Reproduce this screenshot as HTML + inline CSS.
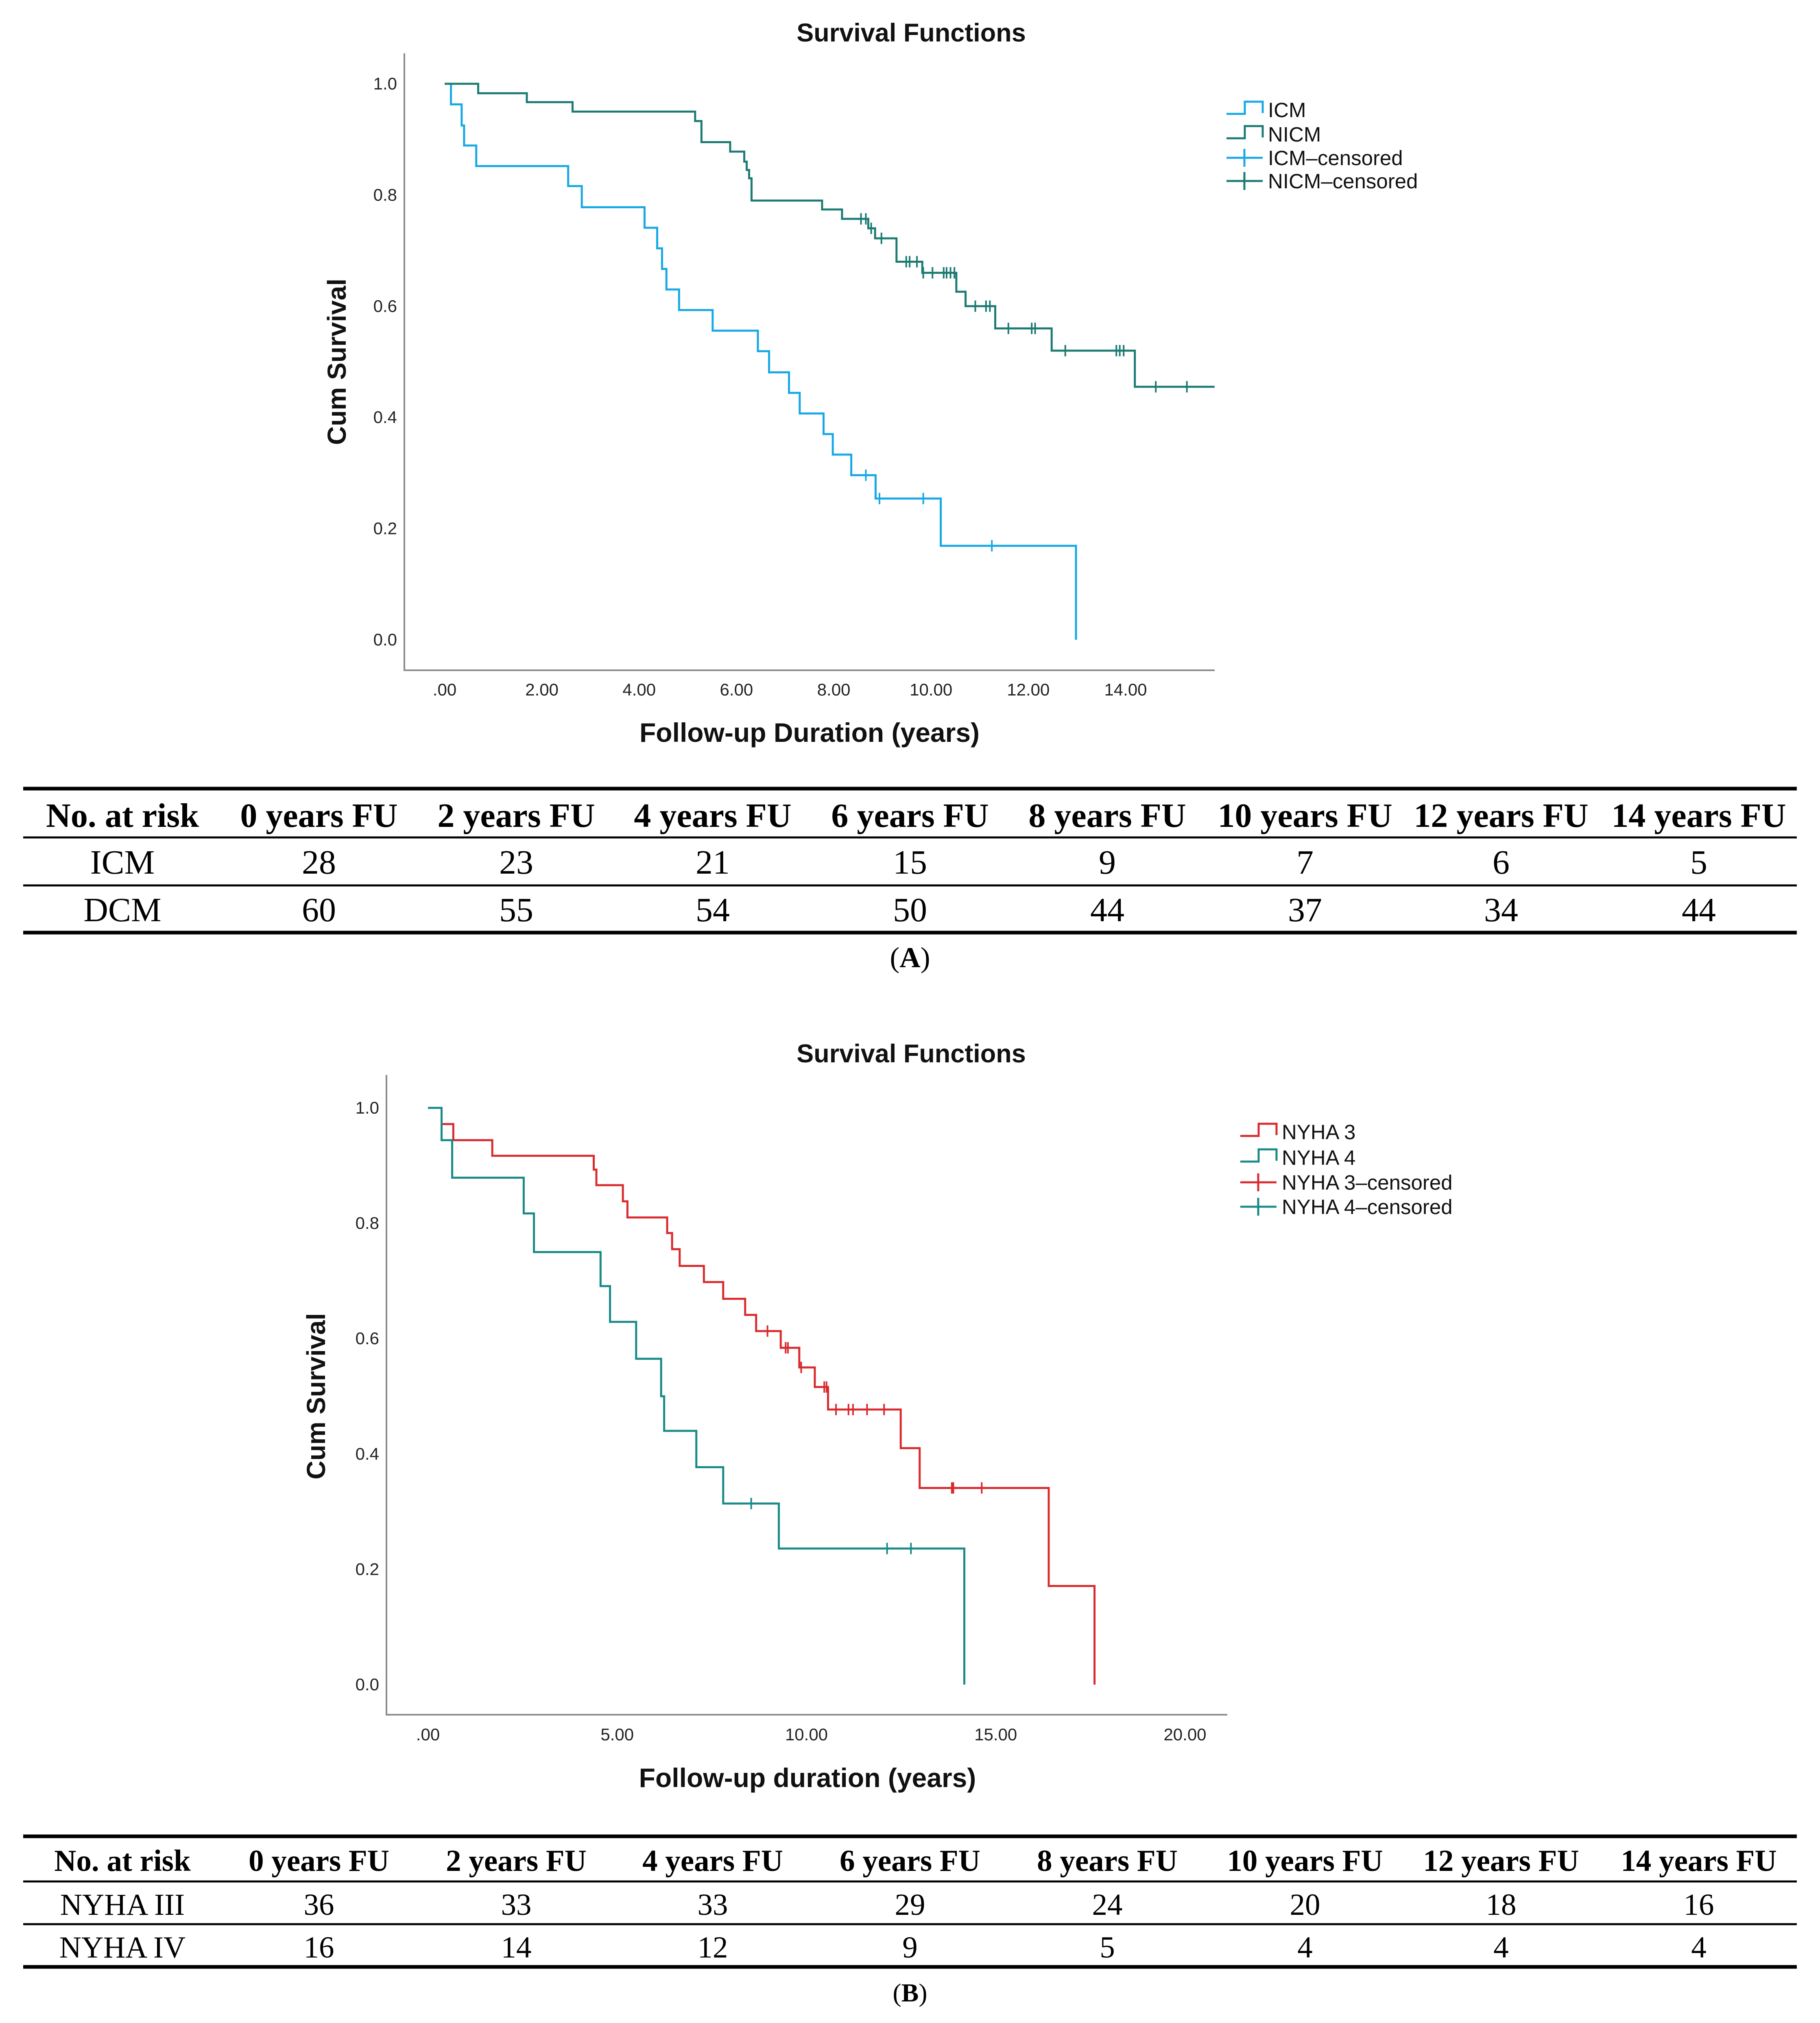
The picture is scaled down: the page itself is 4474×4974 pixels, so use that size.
<!DOCTYPE html>
<html><head><meta charset="utf-8">
<style>
html,body{margin:0;padding:0;background:#fff;}
body{width:4474px;height:4974px;position:relative;overflow:hidden;}
svg{position:absolute;left:0;top:0;}
</style></head>
<body>
<svg id="fig" width="4474" height="4974" viewBox="0 0 4474 4974" xmlns="http://www.w3.org/2000/svg"></svg>
<script>
// ---------- Chart A data ----------
const icmTimes = [0.13,0.35,0.40,0.65,2.54,2.82,4.11,4.37,4.47,4.56,4.82,5.51,6.44,6.67,7.08,7.30,7.79,7.98,8.36,8.86,10.20,12.98];
const icmSurv  = [0.963,0.925,0.889,0.852,0.816,0.778,0.741,0.704,0.667,0.630,0.593,0.556,0.519,0.481,0.444,0.407,0.370,0.333,0.296,0.254,0.169,0.0];
const icmCens  = [8.66,8.94,9.84,11.25];
const icmEnd = 12.98;
const nicmTimes = [0.69,1.69,2.63,5.15,5.28,5.87,6.16,6.21,6.26,6.31,7.76,8.17,8.71,8.85,9.29,9.82,10.52,10.71,11.32,12.48,14.19];
const nicmSurv  = [0.983,0.967,0.950,0.933,0.895,0.878,0.860,0.845,0.830,0.790,0.774,0.757,0.740,0.722,0.680,0.660,0.626,0.600,0.560,0.520,0.455];
const nicmCens  = [8.56,8.66,8.77,8.98,9.49,9.56,9.71,9.84,10.03,10.26,10.32,10.40,10.48,10.91,11.13,11.21,11.59,12.07,12.14,12.76,13.81,13.88,13.96,14.62,15.26];
const nicmEnd = 15.83;
const xTicksA = [0,2,4,6,8,10,12,14];
const xTickLabelsA = [".00","2.00","4.00","6.00","8.00","10.00","12.00","14.00"];
const yTicks = [0,0.2,0.4,0.6,0.8,1.0];
const yTickLabels = ["0.0","0.2","0.4","0.6","0.8","1.0"];
// ---------- Chart B data ----------
const ny3Times = [0.36,0.67,1.70,4.38,4.45,5.15,5.27,6.32,6.45,6.65,7.29,7.80,8.38,8.67,9.32,9.81,10.22,10.57,12.49,12.99,16.40,17.61];
const ny3Surv  = [0.972,0.944,0.917,0.893,0.866,0.838,0.810,0.783,0.755,0.726,0.698,0.669,0.641,0.613,0.584,0.550,0.516,0.477,0.410,0.341,0.171,0.0];
const ny3Cens  = [8.97,9.45,9.51,9.86,10.47,10.53,10.78,11.11,11.23,11.60,12.05,13.84,13.88,14.63];
const ny3End = 17.61;
const ny4Times = [0.36,0.64,2.53,2.80,4.56,4.81,5.50,6.16,6.24,7.09,7.80,9.27,14.17];
const ny4Surv  = [0.944,0.879,0.817,0.750,0.691,0.629,0.565,0.500,0.440,0.377,0.314,0.236,0.0];
const ny4Cens  = [8.54,12.13,12.76];
const ny4End = 14.17;
const xTicksB = [0,5,10,15,20];
const xTickLabelsB = [".00","5.00","10.00","15.00","20.00"];
// ---------- Tables ----------
const headersA = ["No. at risk","0 years FU","2 years FU","4 years FU","6 years FU","8 years FU","10 years FU","12 years FU","14 years FU"];
const rowICM = ["ICM","28","23","21","15","9","7","6","5"];
const rowDCM = ["DCM","60","55","54","50","44","37","34","44"];
const rowNY3 = ["NYHA III","36","33","33","29","24","20","18","16"];
const rowNY4 = ["NYHA IV","16","14","12","9","5","4","4","4"];
const colX = [301,784,1269,1752,2237,2722,3208,3690,4176];

const NS="http://www.w3.org/2000/svg";
const svg=document.getElementById('fig');
function el(tag,attrs,parent){const e=document.createElementNS(NS,tag);for(const k in attrs)e.setAttribute(k,attrs[k]);(parent||svg).appendChild(e);return e;}
function txt(s,attrs,parent){const e=el('text',attrs,parent);e.textContent=s;return e;}

function chart(cfg){
  const g=el('g',{});
  
  
  const xs=v=>cfg.x0+(v-0)*(cfg.x1-cfg.x0)/(cfg.xmaxTick);
  const ys=v=>cfg.y0-v*(cfg.y0-cfg.y1);
  const t=txt("Survival Functions",{x:cfg.titleX,y:cfg.titleY,'font-family':'Liberation Sans, sans-serif','font-size':63,'font-weight':'bold','text-anchor':'middle',fill:'#111'},g);
  
  
  const ax=el('path',{d:`M${cfg.axL},${cfg.axT}V${cfg.axB}H${cfg.axR}`,stroke:'#8a8a8a','stroke-width':4,fill:'none'},g);
  
  
  cfg.xTicks.forEach((v,i)=>{
    const l=txt(cfg.xLabels[i],{x:xs(v),y:cfg.xLabY,'font-family':'Liberation Sans, sans-serif','font-size':42,'text-anchor':'middle',fill:'#222'},g);
    
    
  });
  yTicks.forEach((v,i)=>{
    const l=txt(yTickLabels[i],{x:cfg.yLabX,y:ys(v)+14,'font-family':'Liberation Sans, sans-serif','font-size':42,'text-anchor':'end',fill:'#222'},g);
    
    
  });
  const xt=txt(cfg.xTitle,{x:cfg.xTitleX,y:cfg.xTitleY,'font-family':'Liberation Sans, sans-serif','font-size':66,'font-weight':'bold','text-anchor':'middle',fill:'#111'},g);
  
  
  const yt=txt("Cum Survival",{x:0,y:0,transform:`translate(${cfg.yTitleX},${(cfg.y0+cfg.y1)/2}) rotate(-90)`,'font-family':'Liberation Sans, sans-serif','font-size':64,'font-weight':'bold','text-anchor':'middle',fill:'#111'},g);
  
  
  cfg.series.forEach(s=>{
    let d=`M${xs(0)},${ys(1)}`;
    s.times.forEach((tm,i)=>{d+=`H${xs(tm)}V${ys(s.surv[i])}`;});
    d+=`H${xs(s.end)}`;
    const p=el('path',{d:d,stroke:s.color,'stroke-width':5,fill:'none'},g);
    
    
    s.cens.forEach(c=>{
      let v=1;s.times.forEach((tm,i)=>{if(tm<=c)v=s.surv[i];});
      const m=el('path',{d:`M${xs(c)},${ys(v)-14}V${ys(v)+14}`,stroke:s.color,'stroke-width':4},g);
      
      
    });
  });
  cfg.series.forEach((s,i)=>{
    const y=cfg.legY[i];
    const lg=el('g',{},g);
    
    
    el('path',{d:`M${cfg.legX},${y+10}H${cfg.legX+45}V${y-20}H${cfg.legX+89}V${y+8}`,stroke:s.color,'stroke-width':5,fill:'none'},lg);
    txt(s.label,{x:cfg.legX+102,y:y+18,'font-family':'Liberation Sans, sans-serif','font-size':51,fill:'#111'},lg);
  });
  cfg.series.forEach((s,i)=>{
    const y=cfg.legY[i+2];
    const lg=el('g',{},g);
    
    
    el('path',{d:`M${cfg.legX},${y}H${cfg.legX+89}M${cfg.legX+44},${y-22}V${y+22}`,stroke:s.color,'stroke-width':5,fill:'none'},lg);
    txt(s.label+"\u2013censored",{x:cfg.legX+102,y:y+18,'font-family':'Liberation Sans, sans-serif','font-size':51,fill:'#111'},lg);
  });
}

chart({name:'chart-a',x0:1093,x1:2767,xmaxTick:14,y0:1573,y1:206,axL:994,axT:131,axB:1648,axR:2986,
  titleX:2240,titleY:102,xLabY:1710,yLabX:976,xTitle:"Follow-up Duration (years)",xTitleX:1990,xTitleY:1824,yTitleX:850,
  xTicks:xTicksA,xLabels:xTickLabelsA,legX:3015,legY:[270,330,388,445],
  series:[{key:'icm',label:'ICM',color:'#17a8e6',times:icmTimes,surv:icmSurv,cens:icmCens,end:icmEnd},
          {key:'nicm',label:'NICM',color:'#1c7b73',times:nicmTimes,surv:nicmSurv,cens:nicmCens,end:nicmEnd}]});

chart({name:'chart-b',x0:1052,x1:2913,xmaxTick:20,y0:4142,y1:2724,axL:950,axT:2643,axB:4216,axR:3017,
  titleX:2240,titleY:2612,xLabY:4279,yLabX:932,xTitle:"Follow-up duration (years)",xTitleX:1985,xTitleY:4394,yTitleX:799,
  xTicks:xTicksB,xLabels:xTickLabelsB,legX:3049,legY:[2783,2846,2907,2967],
  series:[{key:'nyha3',label:'NYHA 3',color:'#d92a2e',times:ny3Times,surv:ny3Surv,cens:ny3Cens,end:ny3End},
          {key:'nyha4',label:'NYHA 4',color:'#188a88',times:ny4Times,surv:ny4Surv,cens:ny4Cens,end:ny4End}]});

function table(name,rules,rows,rowY,fs,caption,capY){
  const g=el('g',{});
  
  
  rules.forEach((r,i)=>{
    const thick=(i===0||i===rules.length-1)?9:5;
    const l=el('rect',{x:57,y:r-thick/2,width:4360,height:thick,fill:'#000'},g);
    
    
  });
  rows.forEach((row,ri)=>{
    row.forEach((c,ci)=>{
      const t=txt(c,{x:colX[ci],y:rowY[ri],'font-family':'Liberation Serif, serif','font-size':fs,'font-weight':ri===0?'bold':'normal','text-anchor':'middle',fill:'#000'},g);
      
      
    });
  });
  const c=txt("",{x:2237,y:capY,'font-family':'Liberation Serif, serif','font-size':fs*0.85,'text-anchor':'middle',fill:'#000'},g);
  
  
  const a=document.createElementNS(NS,'tspan');a.textContent='(';c.appendChild(a);
  const b=document.createElementNS(NS,'tspan');b.setAttribute('font-weight','bold');b.textContent=caption;c.appendChild(b);
  const d=document.createElementNS(NS,'tspan');d.textContent=')';c.appendChild(d);
}
table('risk-table-a',[1939,2059,2177,2293],[headersA,rowICM,rowDCM],[2033,2148,2265],84,'A',2378);
table('risk-table-b',[4515,4626,4731,4836],[headersA,rowNY3,rowNY4],[4600,4708,4813],75,'B',4921);
</script>
</body></html>
